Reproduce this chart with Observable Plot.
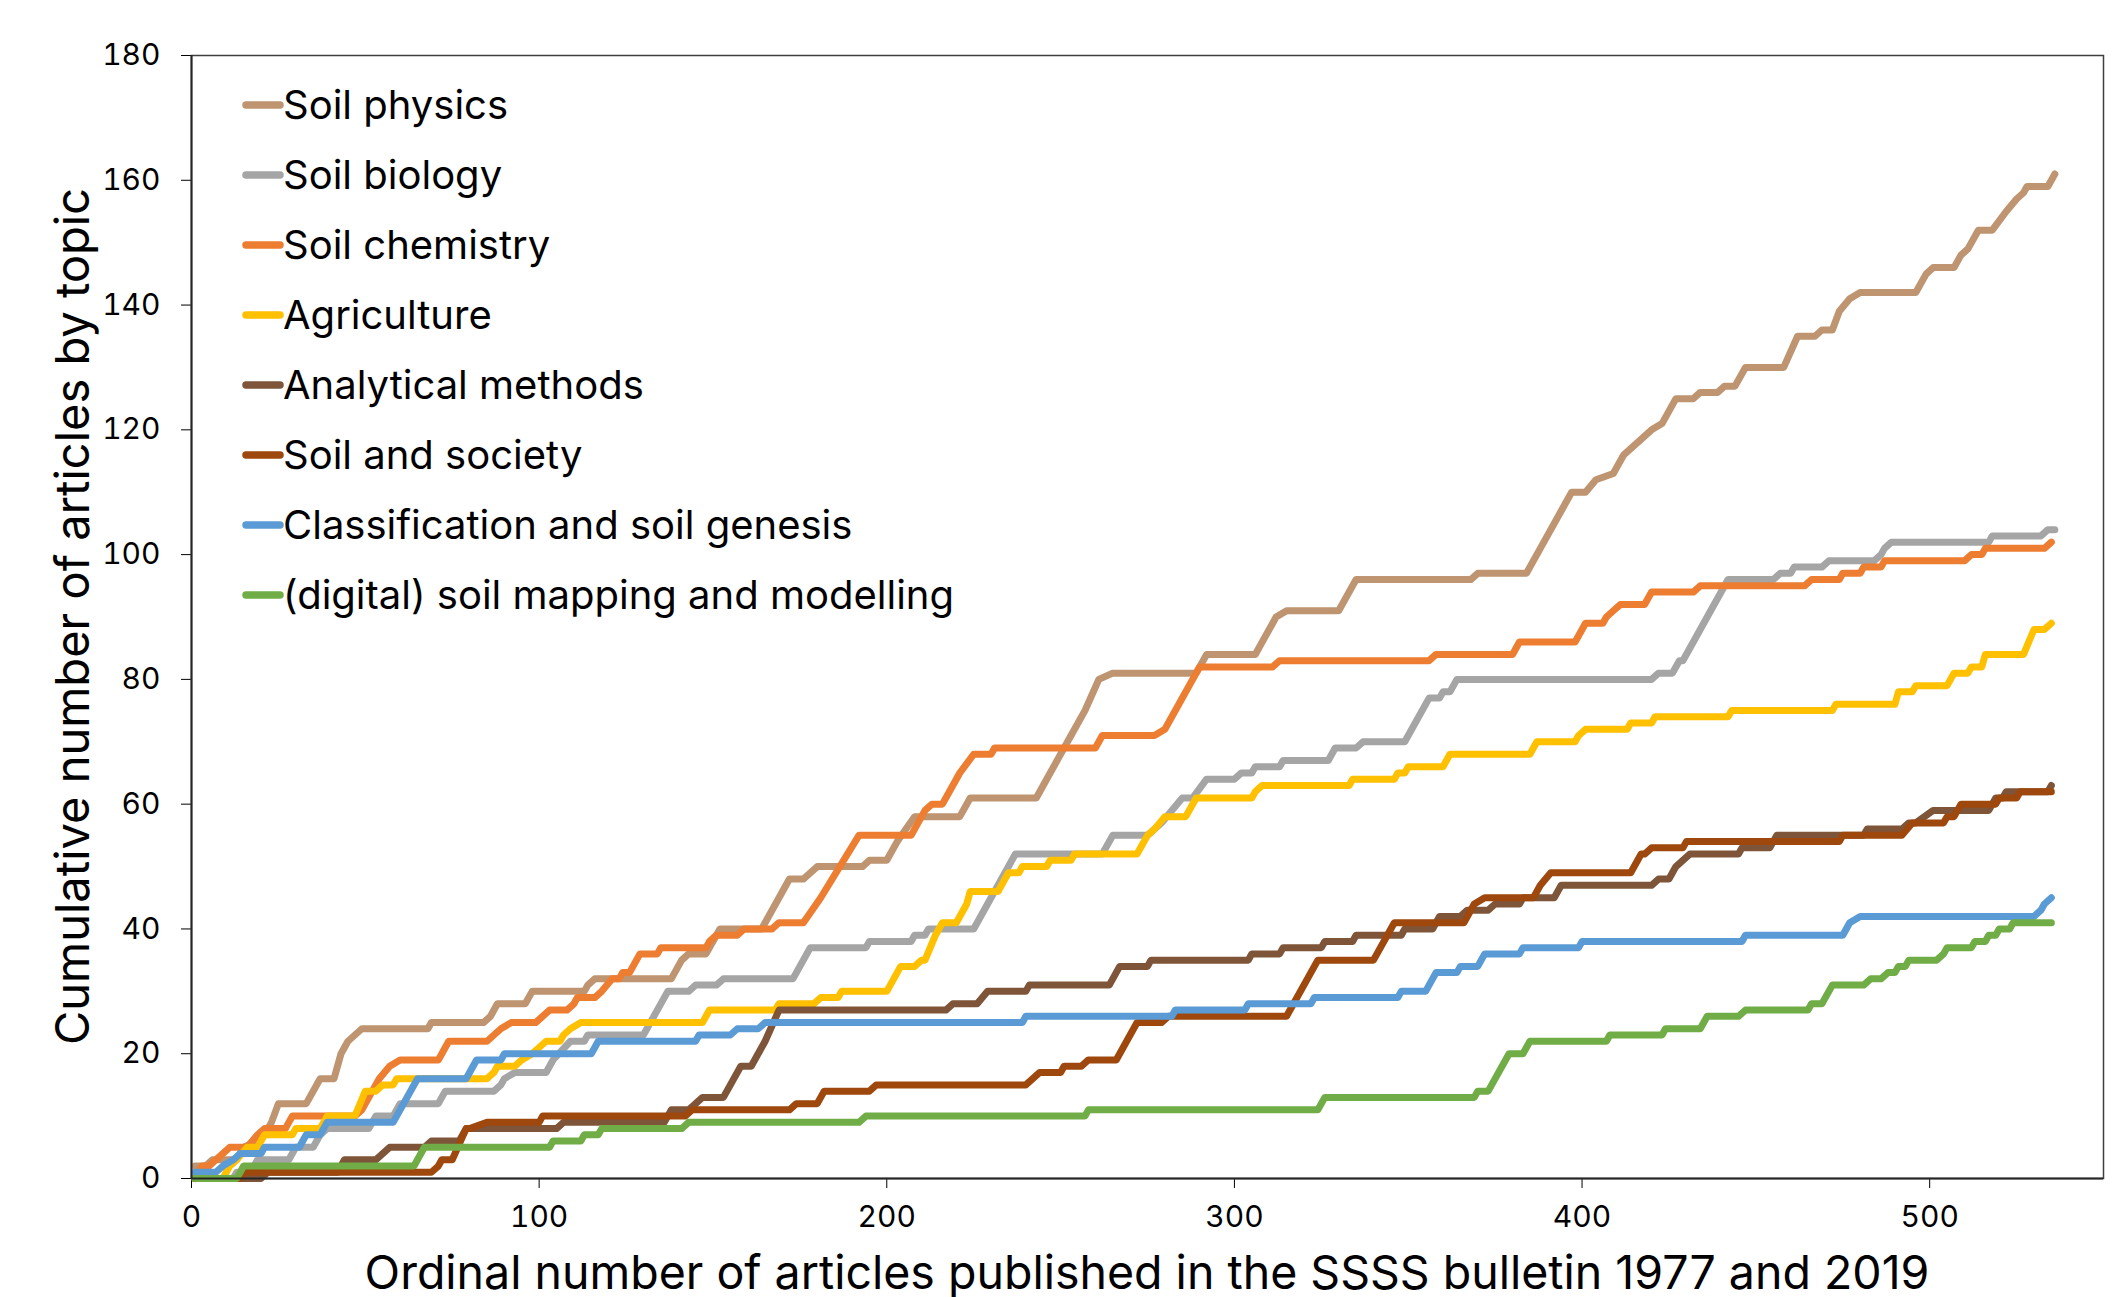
<!DOCTYPE html>
<html>
<head>
<meta charset="utf-8">
<script src="https://cdn.jsdelivr.net/npm/d3@7"></script>
<script src="https://cdn.jsdelivr.net/npm/@observablehq/plot@0.6"></script>
<style>
  html, body { margin: 0; padding: 0; background: #fff; }
  #chart { position: relative; width: 2127px; height: 1297px; overflow: hidden; }
  #chart svg { display: block; }
</style>
</head>
<body>
<div id="chart"></div>
<script>
// ---- data ----
const topics = [
  "Soil physics",
  "Soil biology",
  "Soil chemistry",
  "Agriculture",
  "Analytical methods",
  "Soil and society",
  "Classification and soil genesis",
  "(digital) soil mapping and modelling"
];
const topicColors = ["#BF9470", "#A5A5A5", "#ED7D31", "#FFC000", "#7F5539", "#9E480E", "#5B9BD5", "#70AD47"];

const xTicks = [0, 100, 200, 300, 400, 500];
const yTicks = [0, 20, 40, 60, 80, 100, 120, 140, 160, 180];
const xTitle = "Ordinal number of articles published in the SSSS bulletin 1977 and 2019";
const yTitle = "Cumulative number of articles by topic";

// [ordinal, cumulative count] vertices of each series
const soilPhysics = [[1,2],[4,2],[6,3],[13,3],[15,5],[19,6],[21,7],[23,9],[25,12],[33,12],[37,16],[41,16],[43,20],[45,22],[47,23],[49,24],[68,24],[69,25],[84,25],[86,26],[88,28],[96,28],[98,30],[113,30],[114,31],[116,32],[138,32],[141,35],[143,36],[148,36],[152,40],[164,40],[166,42],[172,48],[176,48],[178,49],[180,50],[193,50],[195,51],[200,51],[203,54],[208,58],[221,58],[224,61],[243,61],[253,71],[257,75],[261,80],[265,81],[289,81],[292,84],[306,84],[312,90],[315,91],[330,91],[335,96],[368,96],[370,97],[384,97],[388,101],[397,110],[401,110],[404,112],[409,113],[412,116],[416,118],[420,120],[423,121],[427,125],[432,125],[434,126],[439,126],[441,127],[444,127],[447,130],[458,130],[462,135],[467,135],[469,136],[472,136],[474,139],[477,141],[480,142],[496,142],[499,145],[501,146],[507,146],[509,148],[511,149],[514,152],[518,152],[522,155],[525,157],[527,158],[528,159],[534,159],[536,161]];
const soilBiology = [[1,0],[12,0],[13,1],[17,1],[19,3],[28,3],[30,5],[35,5],[37,7],[39,8],[51,8],[53,10],[58,10],[60,12],[71,12],[73,14],[87,14],[89,15],[90,16],[93,17],[102,17],[104,19],[109,22],[113,22],[114,23],[130,23],[137,30],[143,30],[145,31],[151,31],[153,32],[173,32],[178,37],[194,37],[195,38],[207,38],[208,39],[211,39],[212,40],[225,40],[237,52],[262,52],[265,55],[275,55],[277,56],[279,57],[282,59],[285,61],[288,61],[292,64],[300,64],[302,65],[305,65],[306,66],[313,66],[314,67],[327,67],[329,69],[335,69],[337,70],[349,70],[356,77],[359,77],[360,78],[362,78],[364,80],[420,80],[422,81],[426,81],[428,83],[429,83],[442,96],[455,96],[457,97],[460,97],[461,98],[469,98],[471,99],[484,99],[486,100],[487,101],[489,102],[517,102],[518,103],[532,103],[534,104],[536,104]];
const soilChemistry = [[1,0],[3,2],[5,2],[7,3],[9,4],[11,5],[16,5],[19,7],[21,8],[27,8],[29,10],[47,10],[49,11],[51,13],[54,16],[57,18],[60,19],[71,19],[74,22],[85,22],[87,23],[89,24],[92,25],[99,25],[101,26],[103,27],[108,27],[110,28],[111,29],[116,29],[118,30],[121,32],[123,32],[124,33],[126,33],[129,36],[134,36],[135,37],[148,37],[149,38],[151,39],[157,39],[159,40],[167,40],[169,41],[176,41],[181,45],[192,55],[207,55],[211,59],[213,60],[216,60],[220,64],[221,65],[225,68],[230,68],[231,69],[260,69],[262,71],[277,71],[280,72],[290,82],[311,82],[313,83],[356,83],[358,84],[380,84],[382,86],[398,86],[401,89],[406,89],[407,90],[409,91],[411,92],[418,92],[419,93],[420,94],[432,94],[434,95],[464,95],[466,96],[474,96],[475,97],[480,97],[481,98],[486,98],[487,99],[510,99],[512,100],[515,100],[516,101],[533,101],[535,102]];
const agriculture = [[1,0],[9,0],[11,2],[13,3],[16,5],[19,5],[21,7],[29,7],[30,8],[37,8],[39,10],[47,10],[50,14],[53,14],[55,15],[58,15],[59,16],[85,16],[87,17],[88,18],[93,18],[95,19],[98,20],[100,21],[102,22],[106,22],[107,23],[109,24],[112,25],[147,25],[149,27],[168,27],[169,28],[179,28],[181,29],[186,29],[187,30],[200,30],[201,31],[204,34],[208,34],[210,35],[211,35],[214,39],[216,41],[220,41],[223,44],[224,46],[232,46],[235,49],[238,49],[239,50],[246,50],[247,51],[253,51],[254,52],[272,52],[275,55],[277,56],[280,58],[286,58],[289,61],[305,61],[306,62],[308,63],[333,63],[334,64],[346,64],[347,65],[349,65],[350,66],[360,66],[362,68],[385,68],[386,69],[387,70],[398,70],[399,71],[401,72],[413,72],[414,73],[420,73],[421,74],[442,74],[443,75],[472,75],[473,76],[490,76],[491,78],[495,78],[496,79],[505,79],[507,81],[511,81],[512,82],[515,82],[516,84],[527,84],[530,88],[533,88],[535,89]];
const analyticalMethods = [[1,0],[20,0],[22,1],[42,1],[44,3],[53,3],[55,4],[57,5],[67,5],[69,6],[77,6],[79,8],[105,8],[107,9],[136,9],[138,11],[143,11],[145,12],[147,13],[153,13],[158,18],[161,18],[165,22],[169,27],[217,27],[219,28],[226,28],[229,30],[240,30],[241,31],[264,31],[267,34],[275,34],[276,35],[304,35],[305,36],[313,36],[314,37],[325,37],[326,38],[334,38],[335,39],[348,39],[349,40],[357,40],[359,42],[365,42],[367,43],[373,43],[375,44],[382,44],[383,45],[392,45],[394,47],[420,47],[422,48],[425,48],[427,50],[429,51],[431,52],[445,52],[446,53],[454,53],[456,55],[481,55],[482,56],[492,56],[494,57],[496,57],[501,59],[517,59],[519,61],[521,61],[522,62],[534,62],[535,63]];
const soilAndSociety = [[1,0],[14,0],[15,1],[69,1],[71,2],[72,3],[75,3],[79,8],[80,8],[85,9],[100,9],[101,10],[142,10],[144,11],[172,11],[174,12],[180,12],[182,14],[195,14],[197,15],[240,15],[242,16],[244,17],[250,17],[251,18],[256,18],[258,19],[266,19],[272,25],[279,25],[281,26],[315,26],[324,35],[340,35],[346,41],[366,41],[369,44],[372,45],[386,45],[388,47],[391,49],[414,49],[417,52],[418,52],[420,53],[429,53],[430,54],[474,54],[475,55],[492,55],[495,57],[504,57],[505,58],[507,58],[509,60],[519,60],[520,61],[525,61],[526,62],[535,62]];
const classificationGenesis = [[1,1],[7,1],[9,2],[12,3],[14,4],[20,4],[21,5],[31,5],[33,7],[37,7],[39,9],[58,9],[65,16],[79,16],[82,19],[89,19],[90,20],[115,20],[117,22],[145,22],[146,23],[155,23],[157,24],[163,24],[165,25],[239,25],[240,26],[282,26],[283,27],[303,27],[304,28],[322,28],[323,29],[347,29],[348,30],[355,30],[358,33],[364,33],[365,34],[370,34],[372,36],[382,36],[383,37],[399,37],[400,38],[446,38],[447,39],[475,39],[477,41],[480,42],[530,42],[532,43],[533,44],[535,45]];
const digitalMapping = [[1,0],[13,0],[15,2],[64,2],[67,5],[103,5],[104,6],[112,6],[113,7],[117,7],[118,8],[141,8],[143,9],[192,9],[194,10],[257,10],[258,11],[324,11],[326,13],[369,13],[370,14],[373,14],[379,20],[383,20],[385,22],[407,22],[408,23],[423,23],[424,24],[434,24],[435,25],[436,26],[445,26],[447,27],[465,27],[466,28],[469,28],[472,31],[481,31],[483,32],[486,32],[488,33],[490,33],[491,34],[493,34],[494,35],[502,35],[504,36],[505,37],[512,37],[513,38],[516,38],[517,39],[519,39],[520,40],[523,40],[524,41],[535,41]];

const seriesValues = [soilPhysics, soilBiology, soilChemistry, agriculture, analyticalMethods, soilAndSociety, classificationGenesis, digitalMapping];

// ---- build table ----
const rows = seriesValues.flatMap((pts, i) => pts.map(([x, y]) => ({ topic: topics[i], x, y })));

const W = 2127, H = 1297;
const M = { left: 191, right: 24, top: 55, bottom: 119 };
const FONT = "Inter, 'Noto Sans', sans-serif";

const chart = Plot.plot({
  width: W,
  height: H,
  marginLeft: M.left,
  marginRight: M.right,
  marginTop: M.top,
  marginBottom: M.bottom,
  style: { fontFamily: FONT, fontSize: "30px", color: "#000", background: "#fff", overflow: "visible" },
  x: { domain: [0, 550], ticks: xTicks, label: null, tickSize: 10, tickPadding: 17, tickFormat: d => String(d) },
  y: { domain: [0, 180], ticks: yTicks, label: null, tickSize: 10, tickPadding: 21, tickFormat: d => String(d) },
  color: { domain: topics, range: topicColors },
  marks: [
    Plot.frame({ stroke: "#404040", strokeWidth: 1.5 }),
    Plot.line(rows, {
      x: "x", y: "y", z: "topic", stroke: "topic",
      strokeWidth: 7, strokeLinecap: "round", strokeLinejoin: "round"
    }),
    Plot.ruleX([0], { stroke: "#262626", strokeWidth: 2 }),
    Plot.ruleY([0], { stroke: "#262626", strokeWidth: 2 })
  ]
});

document.getElementById("chart").appendChild(chart);

// ---- legend (inside plot, top-left) and axis titles ----
const svg = d3.select(chart);
const leg = svg.append("g").attr("class", "legend").attr("text-anchor", "start");
topics.forEach((t, i) => {
  const cy = 105 + i * 70;
  leg.append("line")
    .attr("x1", 246).attr("x2", 280).attr("y1", cy).attr("y2", cy)
    .attr("stroke", topicColors[i]).attr("stroke-width", 7.5).attr("stroke-linecap", "round");
  leg.append("text")
    .attr("x", 283).attr("y", cy).attr("dy", "0.36em")
    .attr("text-anchor", "start")
    .attr("fill", "#000")
    .style("font-family", FONT).style("font-size", "40px")
    .text(t);
});

svg.append("text")
  .attr("transform", `translate(72, ${(M.top + H - M.bottom) / 2}) rotate(-90)`)
  .attr("text-anchor", "middle").attr("dy", "0.36em")
  .attr("fill", "#000")
  .style("font-family", FONT).style("font-size", "47px")
  .text(yTitle);

svg.append("text")
  .attr("x", (M.left + W - M.right) / 2).attr("y", 1289)
  .attr("text-anchor", "middle")
  .attr("fill", "#000")
  .style("font-family", FONT).style("font-size", "46.5px")
  .text(xTitle);
</script>
</body>
</html>
